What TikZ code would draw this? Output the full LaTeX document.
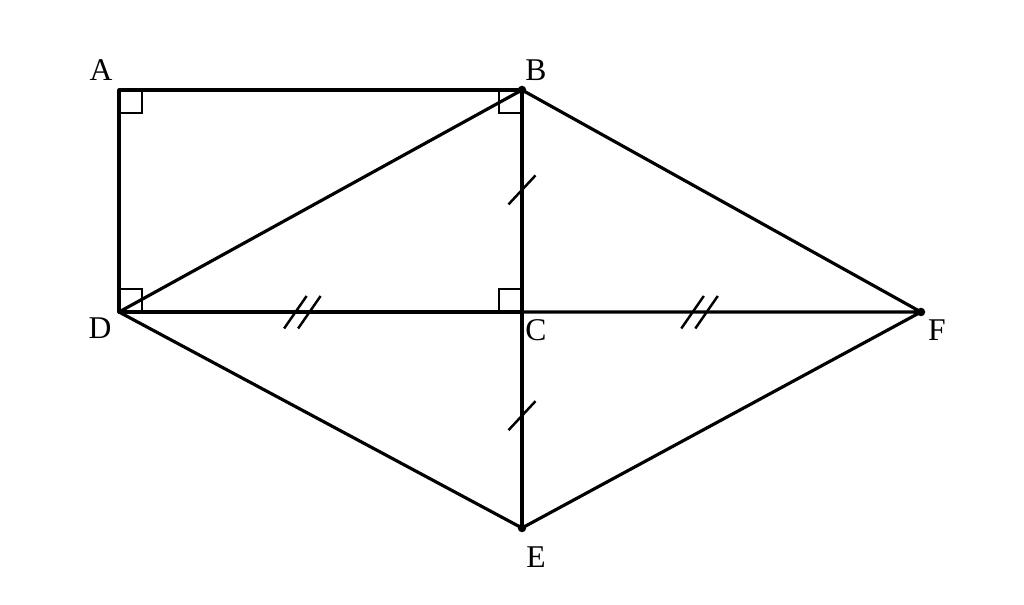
\documentclass[tikz,border=0pt]{standalone}
\usepackage{fontspec}
\setmainfont{Liberation Serif}
\usetikzlibrary{calc}

\tikzset{
	seg/.style={line width=1.8pt,line cap=round,line join=round},
	rmark/.style={line width=0.6pt},
	tick/.style={line width=1.4pt},
	lbl/.style={inner sep=0pt,font=\fontsize{18}{20}\selectfont},
	pt/.style={circle,fill,inner sep=0pt,minimum size=0.17cm}
}

\begin{document}
\begin{tikzpicture}
		\useasboundingbox (0,0) rectangle (20.48,-12.1);
		\coordinate (A) at (2.38,-1.8);
		\coordinate (B) at (10.44,-1.8);
		\coordinate (D) at (2.38,-6.24);
		\coordinate (C) at (10.44,-6.24);
		\coordinate (F) at (18.42,-6.24);
		\coordinate (E) at (10.44,-10.56);
		% right angles
		\draw[rmark] ($(A)+(0,-0.46)$) -| ($(A)+(0.46,0)$);
		\draw[rmark] ($(B)+(0,-0.46)$) -| ($(B)+(-0.46,0)$);
		\draw[rmark] ($(D)+(0,0.46)$) -| ($(D)+(0.46,0)$);
		\draw[rmark] ($(C)+(0,0.46)$) -| ($(C)+(-0.46,0)$);
		% sides
		\draw[seg] (A) -- (B) -- (C) -- (D) -- cycle;
		\draw[seg] (D) -- (B) -- (F) -- (E) -- (D) -- (F);
		\draw[seg] (C) -- (E);
		% equal marks
		\foreach \p/\q/\s in {B/C/0.45,C/E/0.48}
			\draw[tick] ($(\p)!\s!(\q)+(-0.27,-0.29)$) -- ++(0.54,0.58);
		\foreach \p/\q/\s in {D/C/0.455,C/F/0.445}
			\foreach \dx in {-0.14,0.14}
				\draw[tick] ($(\p)!\s!(\q)+(\dx-0.225,-0.33)$) -- ++(0.45,0.65);
		\node[pt] (ptB) at (B) {};
		\node[pt] (ptE) at (E) {};
		\node[pt] (ptF) at (F) {};
		% labels
		\node[lbl] (labA) at ($(A)+(-0.36,0.4)$) {A};
		\node[lbl] (labB) at ($(B)+(0.28,0.4)$) {B};
		\node[lbl] (labD) at ($(D)+(-0.38,-0.32)$) {D};
		\node[lbl] (labC) at ($(C)+(0.28,-0.36)$) {C};
		\node[lbl] (labF) at ($(F)+(0.32,-0.36)$) {F};
		\node[lbl] (labE) at ($(E)+(0.28,-0.58)$) {E};
\end{tikzpicture}
\end{document}
